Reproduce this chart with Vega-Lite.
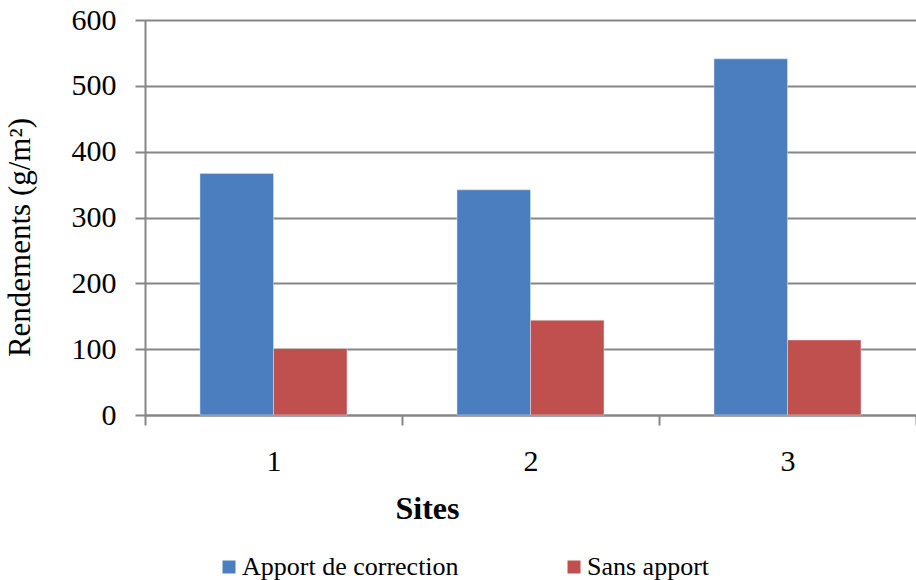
{
  "$schema": "https://vega.github.io/schema/vega-lite/v6.json",
  "width": 771,
  "height": 395,
  "autosize": {"type": "none"},
  "padding": {"left": 145, "top": 20, "right": 0, "bottom": 165},
  "background": "white",
  "data": {
    "values": [
      {"site": "1", "serie": "Apport de correction", "rendement": 367},
      {"site": "1", "serie": "Sans apport", "rendement": 101},
      {"site": "2", "serie": "Apport de correction", "rendement": 342},
      {"site": "2", "serie": "Sans apport", "rendement": 144},
      {"site": "3", "serie": "Apport de correction", "rendement": 541},
      {"site": "3", "serie": "Sans apport", "rendement": 114}
    ]
  },
  "mark": {"type": "bar", "stroke": "#dce6f2", "strokeWidth": 0.5},
  "encoding": {
    "x": {
      "field": "site",
      "type": "nominal",
      "scale": {"paddingInner": 0, "paddingOuter": 0},
      "axis": {
        "title": "Sites",
        "titleFont": "Liberation Serif",
        "titleFontSize": 32,
        "titleFontWeight": "bold",
        "titleColor": "black",
        "titleX": 282,
        "titleY": 78,
        "labelFont": "Liberation Serif",
        "labelFontSize": 30,
        "labelColor": "black",
        "labelAngle": 0,
        "labelPadding": 21,
        "tickBand": "extent",
        "tickSize": 10,
        "tickColor": "#868686",
        "tickWidth": 2,
        "domainColor": "#868686",
        "domainWidth": 2,
        "grid": false
      }
    },
    "xOffset": {
      "field": "serie",
      "type": "nominal",
      "scale": {"paddingInner": 0, "paddingOuter": 0.748}
    },
    "y": {
      "field": "rendement",
      "type": "quantitative",
      "scale": {"domain": [0, 600], "nice": false},
      "axis": {
        "title": "Rendements (g/m²)",
        "titleFont": "Liberation Serif",
        "titleFontSize": 31,
        "titleFontWeight": "normal",
        "titleColor": "black",
        "titleX": -109,
        "titleY": 217,
        "labelFont": "Liberation Serif",
        "labelFontSize": 30,
        "labelColor": "black",
        "labelPadding": 19,
        "values": [0, 100, 200, 300, 400, 500, 600],
        "tickSize": 10,
        "tickColor": "#868686",
        "tickWidth": 2,
        "domainColor": "#868686",
        "domainWidth": 2,
        "grid": true,
        "gridColor": "#868686",
        "gridWidth": 2
      }
    },
    "color": {
      "field": "serie",
      "type": "nominal",
      "scale": {
        "domain": ["Apport de correction", "Sans apport"],
        "range": ["#4A7EBF", "#C0504D"]
      },
      "legend": {
        "title": null,
        "orient": "none",
        "legendX": 71,
        "legendY": 534,
        "direction": "horizontal",
        "columns": 2,
        "columnPadding": 102,
        "symbolType": "square",
        "symbolSize": 169,
        "symbolStrokeWidth": 0,
        "labelFont": "Liberation Serif",
        "labelFontSize": 26,
        "labelColor": "black",
        "labelOffset": 0,
        "labelLimit": 400
      }
    }
  },
  "config": {"view": {"stroke": null}}
}
